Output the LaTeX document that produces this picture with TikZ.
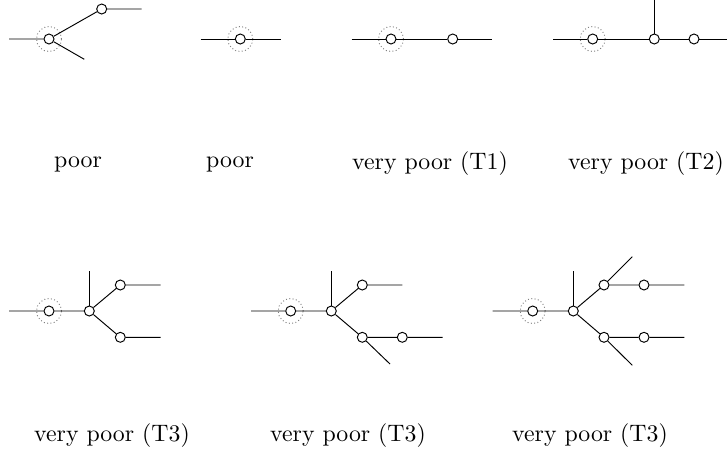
\documentclass[tikz,border=0pt]{standalone}
\usepackage{amsmath}
\usepackage{tikz}
\usetikzlibrary{positioning}

\begin{document}
\begin{tikzpicture}[x=0.42pt,y=-0.42pt]
  \tikzstyle{pt}=[circle,draw,fill=white,minimum size=4.2pt,inner sep=0pt]
  \tikzstyle{ring}=[circle,draw=gray,densely dotted,minimum size=10.5pt,inner sep=0pt]
  \tikzstyle{lbl}=[inner sep=0pt]
  \useasboundingbox (0,0) rectangle (727,454);

  % poor (fork)
  \coordinate (a0) at (9,39);
  \node[ring] (ar) at (49,39) {};
  \node[pt] (a1) at (49,39) {};
  \node[pt] (a2) at (101.7,9) {};
  \coordinate (a3) at (141.7,9);
  \coordinate (a4) at (84.3,59.3);
  \draw (a0) -- (a1) -- (a2) -- (a3);
  \draw (a1) -- (a4);

  % poor (single)
  \coordinate (b0) at (200.7,39);
  \node[ring] (br) at (240.3,39) {};
  \node[pt] (b1) at (240.3,39) {};
  \coordinate (b2) at (280.7,39);
  \draw (b0) -- (b1) -- (b2);

  % T1
  \coordinate (c0) at (351.7,39);
  \node[ring] (cr) at (391,39) {};
  \node[pt] (c1) at (391,39) {};
  \node[pt] (c2) at (452.7,39) {};
  \coordinate (c3) at (492,39);
  \draw (c0) -- (c1) -- (c2) -- (c3);

  % T2
  \coordinate (d0) at (553.3,39);
  \node[ring] (dr) at (592.7,39) {};
  \node[pt] (d1) at (592.7,39) {};
  \node[pt] (d2) at (654.3,39) {};
  \node[pt] (d3) at (694,39) {};
  \coordinate (d4) at (726.7,39);
  \coordinate (d5) at (654.3,0);
  \draw (d0) -- (d1) -- (d2) -- (d3) -- (d4);
  \draw (d2) -- (d5);

  \node[lbl] (la) at (78,164) {poor};
  \node[lbl] (lb) at (230,164) {poor};
  \node[lbl] (lc) at (430,164) {very poor (T1)};
  \node[lbl] (ld) at (646,164) {very poor (T2)};

  % T3, two branches
  \coordinate (e0) at (9,311);
  \node[ring] (er) at (49,311) {};
  \node[pt] (e1) at (49,311) {};
  \node[pt] (e2) at (89.3,311) {};
  \node[pt] (e3) at (120.3,285) {};
  \node[pt] (e4) at (120.3,337.3) {};
  \coordinate (e5) at (89.3,271);
  \coordinate (e6) at (160.7,285);
  \coordinate (e7) at (160.7,337.3);
  \draw (e0) -- (e1) -- (e2) -- (e3) -- (e6);
  \draw (e2) -- (e4) -- (e7);
  \draw (e2) -- (e5);

  % T3, lower branch split
  \coordinate (f0) at (251,311);
  \node[ring] (fr) at (290.7,311) {};
  \node[pt] (f1) at (290.7,311) {};
  \node[pt] (f2) at (331.3,311) {};
  \node[pt] (f3) at (362.3,285) {};
  \node[pt] (f4) at (362.3,337.3) {};
  \node[pt] (f5) at (402.3,337.3) {};
  \coordinate (f6) at (331.3,271);
  \coordinate (f7) at (402.3,285);
  \coordinate (f8) at (442.7,337.3);
  \coordinate (f9) at (390,364);
  \draw (f0) -- (f1) -- (f2) -- (f3) -- (f7);
  \draw (f2) -- (f4) -- (f5) -- (f8);
  \draw (f2) -- (f6);
  \draw (f4) -- (f9);

  % T3, both branches split
  \coordinate (g0) at (492.7,311);
  \node[ring] (gr) at (532.7,311) {};
  \node[pt] (g1) at (532.7,311) {};
  \node[pt] (g2) at (573.3,311) {};
  \node[pt] (g3) at (604,285) {};
  \node[pt] (g4) at (604,337.3) {};
  \node[pt] (g5) at (644,285) {};
  \node[pt] (g6) at (644,337.3) {};
  \coordinate (g7) at (573.3,271);
  \coordinate (g8) at (684.3,285);
  \coordinate (g9) at (684.3,337.3);
  \coordinate (g10) at (632.3,256.7);
  \coordinate (g11) at (632.3,365.3);
  \draw (g0) -- (g1) -- (g2) -- (g3) -- (g5) -- (g8);
  \draw (g2) -- (g4) -- (g6) -- (g9);
  \draw (g2) -- (g7);
  \draw (g3) -- (g10);
  \draw (g4) -- (g11);

  \node[lbl] (le) at (112,436) {very poor (T3)};
  \node[lbl] (lf) at (348,436) {very poor (T3)};
  \node[lbl] (lg) at (590,436) {very poor (T3)};
\end{tikzpicture}
\end{document}
